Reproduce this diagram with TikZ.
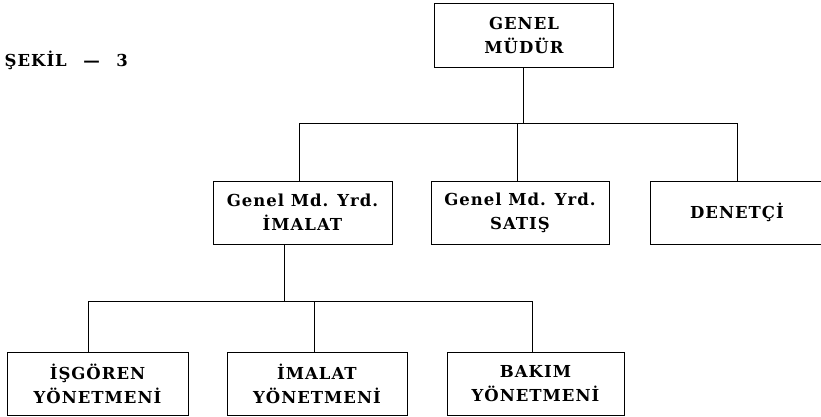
\documentclass[tikz,border=0pt]{standalone}
\usepackage{fontspec}
\newfontfamily\orgfont[LetterSpace=6, UprightFont={DejaVu Serif Bold}]{DejaVu Serif}
\usetikzlibrary{positioning}

\begin{document}
\begin{tikzpicture}[x=1pt, y=-1pt, line width=0.8pt,
    every node/.style={font=\orgfont\fontsize{16.5}{24}\selectfont, align=center},
    unit/.style={draw, minimum width=179pt, minimum height=63pt, inner sep=0pt}]
  \useasboundingbox (0,0) rectangle (821,416);
  \node[anchor=west] (title) at (1,60) {ŞEKİL\quad—\quad3};
  \node[unit, minimum height=64pt] (gm) at (524,35) {GENEL\\MÜDÜR};
  \node[unit] (imalat) at (302.5,212.5) {Genel Md. Yrd.\\İMALAT};
  \node[unit, minimum width=178pt] (satis) at (520,212.5) {Genel Md. Yrd.\\SATIŞ};
  \node[unit, minimum width=174pt] (denetci) at (737,212.5) {DENETÇİ};
  \node[unit, minimum width=181pt] (isgoren) at (97.5,384) {İŞGÖREN\\YÖNETMENİ};
  \node[unit, minimum width=180pt] (imyon) at (317,384) {İMALAT\\YÖNETMENİ};
  \node[unit, minimum width=177pt] (bakim) at (535.5,384) {BAKIM\\YÖNETMENİ};
  \coordinate (top) at (523,123);
  \coordinate (d1) at (299,123);
  \coordinate (d2) at (517,123);
  \coordinate (d3) at (737,123);
  \coordinate (low) at (284,301);
  \coordinate (e1) at (88,301);
  \coordinate (e2) at (314,301);
  \coordinate (e3) at (532,301);
  \draw (top |- gm.south) -- (top);
  \draw (d1) -- (d3);
  \foreach \d/\n in {d1/imalat, d2/satis, d3/denetci}
    \draw (\d) -- (\d |- \n.north);
  \draw (low |- imalat.south) -- (low);
  \draw (e1) -- (e3);
  \foreach \d/\n in {e1/isgoren, e2/imyon, e3/bakim}
    \draw (\d) -- (\d |- \n.north);
\end{tikzpicture}
\end{document}
